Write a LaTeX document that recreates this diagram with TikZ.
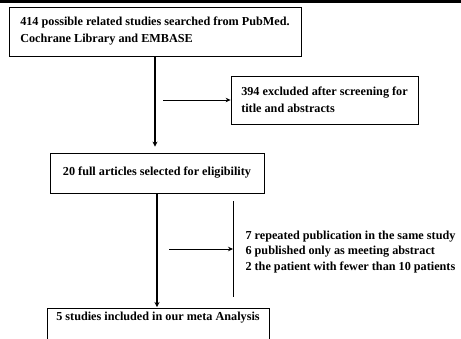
\documentclass[tikz,border=0pt]{standalone}
\usepackage{fontspec}
\setmainfont{Liberation Serif}
\usetikzlibrary{arrows.meta}

\begin{document}
\begin{tikzpicture}[x=1pt,y=-1pt,
    box/.style={draw,line width=0.8pt,align=left,inner xsep=0pt,
      font=\bfseries\fontsize{12.2}{17}\selectfont},
    flow/.style={line width=1.3pt,-{Stealth[length=5pt,width=5pt]}},
    side/.style={line width=0.8pt,-{Stealth[length=5pt,width=4.5pt]}}]
    \useasboundingbox (0,0) rectangle (461,338);
    \clip (0,0) rectangle (461,338);

    % draw top bar
    \fill (0,0) rectangle (461,3);

    % draw boxes
    \node[box,minimum width=292pt,minimum height=49pt] (search) at (155,31.5)
      {414 possible related studies searched from PubMed.\\Cochrane Library and EMBASE};
    \node[box,minimum width=187pt,minimum height=48pt] (excl) at (324.5,100)
      {394 excluded after screening for\\title and abstracts};
    \node[box,minimum width=214pt,minimum height=40pt] (full) at (157,173)
      {20 full articles selected for eligibility};
    \node[box,anchor=north,minimum width=222pt,inner ysep=4pt,
      text height=8pt,text depth=26pt] (incl) at (158,308)
      {5 studies included in our meta Analysis};

    % draw reasons
    \node[anchor=west,align=left,font=\bfseries\fontsize{12.2}{15.3}\selectfont] (why) at (242,252)
      {7 repeated publication in the same study\\
       6 published only as meeting abstract\\
       2 the patient with fewer than 10 patients};
    \coordinate (bartop) at (233,201);
    \coordinate (barbot) at (233,297);
    \coordinate (barmid) at (233,249);
    \draw[line width=0.8pt] (bartop) -- (barbot);

    % draw arrows
    \coordinate (tail1) at (163,100);
    \coordinate (tail2) at (169,249);
    \draw[flow,shorten >=6pt] (search.south) -- (search.south |- full.north);
    \draw[side] (tail1) -- (excl.west);
    \draw[flow,shorten >=1pt] (full.south) -- (full.south |- incl.north);
    \draw[side] (tail2) -- (barmid);

\end{tikzpicture}
\end{document}
